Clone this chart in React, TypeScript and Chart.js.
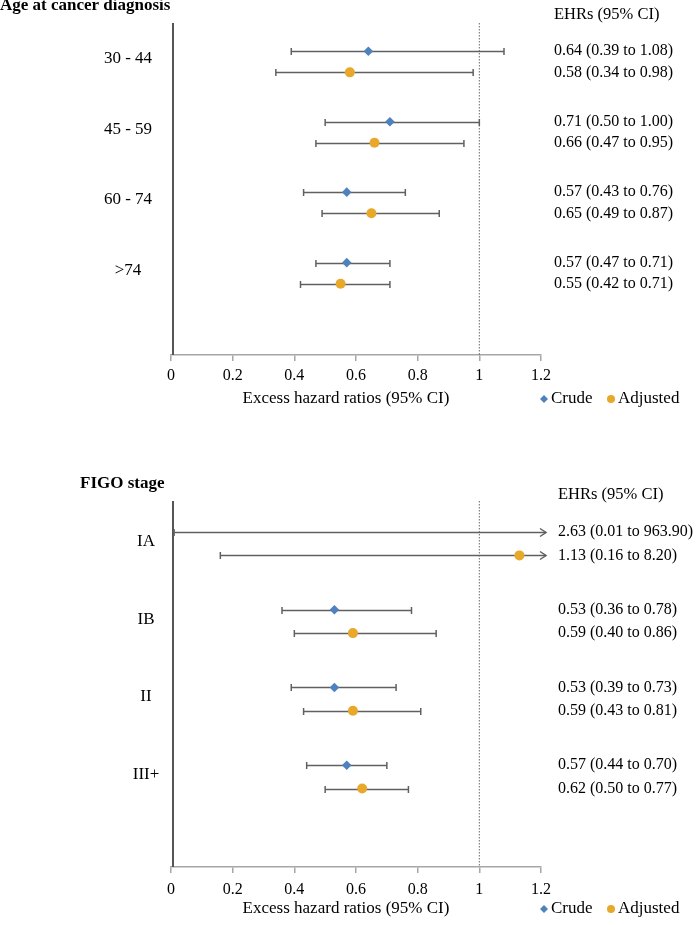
import React, { useEffect, useRef } from "react";
import { Chart, registerables } from "chart.js";

Chart.register(...registerables);

// ---------- data ----------
const ageCategories = ["30 - 44", "45 - 59", "60 - 74", ">74"];
const ageCrude = [0.64, 0.71, 0.57, 0.57];
const ageCrudeLow = [0.39, 0.5, 0.43, 0.47];
const ageCrudeHigh = [1.08, 1.0, 0.76, 0.71];
const ageAdj = [0.58, 0.66, 0.65, 0.55];
const ageAdjLow = [0.34, 0.47, 0.49, 0.42];
const ageAdjHigh = [0.98, 0.95, 0.87, 0.71];

const figoCategories = ["IA", "IB", "II", "III+"];
const figoCrude = [2.63, 0.53, 0.53, 0.57];
const figoCrudeLow = [0.01, 0.36, 0.39, 0.44];
const figoCrudeHigh = [963.9, 0.78, 0.73, 0.7];
const figoAdj = [1.13, 0.59, 0.59, 0.62];
const figoAdjLow = [0.16, 0.4, 0.43, 0.5];
const figoAdjHigh = [8.2, 0.86, 0.81, 0.77];

const xTicks = [0, 0.2, 0.4, 0.6, 0.8, 1, 1.2];
const seriesNames = ["Crude", "Adjusted"];
const refValue = 1;

// ---------- style ----------
const SERIF = "'Liberation Serif', 'Times New Roman', serif";
const BLUE = "#4F81BD";
const GOLD = "#E8A82A";
const BAR = "#606060";
const AXIS = "#a6a6a6";
const ADJ_OFFSET = 0.3;

type Panel = {
  title: string;
  titleX: number;
  titleY: number;
  categories: string[];
  crude: number[];
  crudeLow: number[];
  crudeHigh: number[];
  adj: number[];
  adjLow: number[];
  adjHigh: number[];
  height: number;
  padTop: number;
  padBottom: number;
  tickPad: number;
  labelX: number;
  labelOffset: number;
  textX: number;
  headerY: number;
  axisTitleY: number;
  legendY: number;
};

const panels: Panel[] = [
  {
    title: "Age at cancer diagnosis",
    titleX: 0,
    titleY: 6,
    categories: ageCategories,
    crude: ageCrude,
    crudeLow: ageCrudeLow,
    crudeHigh: ageCrudeHigh,
    adj: ageAdj,
    adjLow: ageAdjLow,
    adjHigh: ageAdjHigh,
    height: 460,
    padTop: 23,
    padBottom: 65,
    tickPad: 5,
    labelX: 128,
    labelOffset: 0.11,
    textX: 554,
    headerY: 15,
    axisTitleY: 399,
    legendY: 399,
  },
  {
    title: "FIGO stage",
    titleX: 80,
    titleY: 24,
    categories: figoCategories,
    crude: figoCrude,
    crudeLow: figoCrudeLow,
    crudeHigh: figoCrudeHigh,
    adj: figoAdj,
    adjLow: figoAdjLow,
    adjHigh: figoAdjHigh,
    height: 465,
    padTop: 41,
    padBottom: 18,
    tickPad: 7,
    labelX: 146,
    labelOffset: 0.12,
    textX: 558,
    headerY: 35,
    axisTitleY: 449,
    legendY: 449,
  },
];

const fmt = (v: number) => v.toFixed(2);

function makePlugin(p: Panel) {
  return {
    id: "forest",
    beforeDatasetsDraw(chart: any) {
      const { ctx, chartArea, scales } = chart;
      const xs = scales.x;
      const ys = scales.y;
      const xMax = xs.max;
      ctx.save();
      // y axis line
      ctx.strokeStyle = "#555555";
      ctx.lineWidth = 2;
      ctx.beginPath();
      ctx.moveTo(chartArea.left + 2, chartArea.top);
      ctx.lineTo(chartArea.left + 2, chartArea.bottom);
      ctx.stroke();
      // reference dotted line
      const rx = xs.getPixelForValue(refValue);
      ctx.strokeStyle = "#444444";
      ctx.lineWidth = 0.8;
      ctx.setLineDash([1.5, 1.5]);
      ctx.beginPath();
      ctx.moveTo(rx, chartArea.top);
      ctx.lineTo(rx, chartArea.bottom);
      ctx.stroke();
      ctx.setLineDash([]);
      // error bars
      const groups = [
        { low: p.crudeLow, high: p.crudeHigh, off: 0 },
        { low: p.adjLow, high: p.adjHigh, off: ADJ_OFFSET },
      ];
      ctx.strokeStyle = BAR;
      ctx.lineWidth = 1.5;
      groups.forEach((g) => {
        p.categories.forEach((_, i) => {
          const y = Math.round(ys.getPixelForValue(i + g.off)) + 0.5;
          const x0 = xs.getPixelForValue(g.low[i]);
          const over = g.high[i] > xMax;
          const x1 = over ? xs.getPixelForValue(xMax) + 5 : xs.getPixelForValue(g.high[i]);
          ctx.beginPath();
          ctx.moveTo(x0, y);
          ctx.lineTo(x1, y);
          ctx.stroke();
          ctx.beginPath();
          ctx.moveTo(x0, y - 3.5);
          ctx.lineTo(x0, y + 3.5);
          ctx.stroke();
          if (over) {
            ctx.beginPath();
            ctx.moveTo(x1 - 6, y - 4);
            ctx.lineTo(x1, y);
            ctx.lineTo(x1 - 6, y + 4);
            ctx.stroke();
          } else {
            ctx.beginPath();
            ctx.moveTo(x1, y - 3.5);
            ctx.lineTo(x1, y + 3.5);
            ctx.stroke();
          }
        });
      });
      ctx.restore();
    },
    afterDraw(chart: any) {
      const { ctx, scales } = chart;
      const ys = scales.y;
      ctx.save();
      ctx.fillStyle = "#000000";
      // panel title
      ctx.font = `bold 17px ${SERIF}`;
      ctx.textAlign = "left";
      ctx.textBaseline = "middle";
      ctx.fillText(p.title, p.titleX, p.titleY);
      // category labels
      ctx.font = `17px ${SERIF}`;
      ctx.textAlign = "center";
      p.categories.forEach((c, i) => {
        ctx.fillText(c, p.labelX, ys.getPixelForValue(i + p.labelOffset));
      });
      // right texts
      ctx.textAlign = "left";
      ctx.font = `16.5px ${SERIF}`;
      ctx.fillText("EHRs (95% CI)", p.textX, p.headerY);
      ctx.font = `16px ${SERIF}`;
      p.categories.forEach((_, i) => {
        ctx.fillText(
          `${fmt(p.crude[i])} (${fmt(p.crudeLow[i])} to ${fmt(p.crudeHigh[i])})`,
          p.textX,
          ys.getPixelForValue(i)
        );
        ctx.fillText(
          `${fmt(p.adj[i])} (${fmt(p.adjLow[i])} to ${fmt(p.adjHigh[i])})`,
          p.textX,
          ys.getPixelForValue(i + ADJ_OFFSET)
        );
      });
      // axis title
      ctx.font = `17px ${SERIF}`;
      ctx.textAlign = "center";
      ctx.fillText("Excess hazard ratios (95% CI)", 346, p.axisTitleY);
      // legend
      const ly = p.legendY;
      ctx.fillStyle = BLUE;
      ctx.beginPath();
      ctx.moveTo(544, ly - 4);
      ctx.lineTo(548, ly);
      ctx.lineTo(544, ly + 4);
      ctx.lineTo(540, ly);
      ctx.closePath();
      ctx.fill();
      ctx.fillStyle = GOLD;
      ctx.beginPath();
      ctx.arc(611, ly, 4, 0, Math.PI * 2);
      ctx.fill();
      ctx.fillStyle = "#000000";
      ctx.textAlign = "left";
      ctx.fillText(seriesNames[0], 551, ly);
      ctx.fillText(seriesNames[1], 618, ly);
      ctx.restore();
    },
  };
}

function ForestPanel({ p }: { p: Panel }) {
  const ref = useRef<HTMLCanvasElement | null>(null);
  useEffect(() => {
    if (!ref.current) return;
    const clip = { left: 8, right: 8, top: 8, bottom: 8 };
    const chart = new Chart(ref.current, {
      type: "scatter",
      data: {
        datasets: [
          {
            label: seriesNames[0],
            data: p.categories.map((_, i) => ({ x: p.crude[i], y: i })),
            pointStyle: "rectRot",
            pointRadius: 4.8,
            backgroundColor: BLUE,
            borderColor: BLUE,
            borderWidth: 0,
            clip,
          } as any,
          {
            label: seriesNames[1],
            data: p.categories.map((_, i) => ({ x: p.adj[i], y: i + ADJ_OFFSET })),
            pointStyle: "circle",
            pointRadius: 5,
            backgroundColor: GOLD,
            borderColor: GOLD,
            borderWidth: 0,
            clip,
          } as any,
        ],
      },
      options: {
        animation: false,
        responsive: false,
        layout: { padding: { left: 171, right: 156, top: p.padTop, bottom: p.padBottom } },
        scales: {
          x: {
            type: "linear",
            min: 0,
            max: 1.2,
            afterBuildTicks: (s: any) => {
              s.ticks = xTicks.map((v) => ({ value: v }));
            },
            afterFit: (s: any) => {
              s.height = 40;
            },
            grid: {
              drawOnChartArea: false,
              drawTicks: true,
              tickLength: 6,
              color: AXIS,
              lineWidth: 1.5,
            },
            border: { display: true, color: AXIS, width: 1.5 },
            ticks: {
              font: { family: SERIF, size: 16 },
              color: "#000000",
              padding: p.tickPad,
              maxRotation: 0,
              autoSkip: false,
              callback: (v: any) => String(v),
            },
          },
          y: { type: "linear", display: false, reverse: true, min: -0.4, max: 4.31 },
        },
        plugins: { legend: { display: false }, tooltip: { enabled: false } },
      } as any,
      plugins: [makePlugin(p)],
    });
    return () => chart.destroy();
  }, [p]);
  return <canvas ref={ref} width={697} height={p.height} style={{ display: "block" }} />;
}

export default function App() {
  return (
    <div style={{ position: "absolute", left: 0, top: 0, width: 697, background: "#fff" }}>
      {panels.map((p, i) => (
        <ForestPanel key={i} p={p} />
      ))}
    </div>
  );
}
